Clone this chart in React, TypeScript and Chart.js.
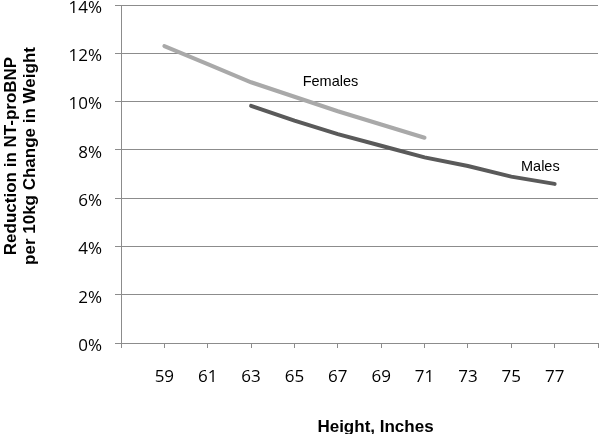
import React, { useEffect, useRef } from "react";
import { Chart, registerables } from "chart.js";

Chart.register(...registerables);

const categories = ["", "59", "61", "63", "65", "67", "69", "71", "73", "75", "77", ""];
const females = [null, 12.3, 11.55, 10.8, 10.2, 9.6, 9.05, 8.5, null, null, null, null];
const males = [null, null, null, 9.82, 9.21, 8.65, 8.17, 7.69, 7.33, 6.89, 6.59, null];
const yTickMin = 0;
const yTickMax = 14;
const yTickStep = 2;
const yTitleLines = ["Reduction in NT-proBNP", "per 10kg Change in Weight"];
const xTitle = "Height, Inches";
const seriesNames = ["Females", "Males"];

const GRID = "#8c8c8c";

const textPlugin = {
  id: "textPlugin",
  afterDraw(chart: any) {
    const ctx = chart.ctx;
    const xs = chart.scales.x;
    const ys = chart.scales.y;
    ctx.save();
    ctx.fillStyle = "#000";
    ctx.font = "bold 17px 'Liberation Sans', Arial, sans-serif";
    ctx.textAlign = "center";
    ctx.textBaseline = "alphabetic";
    const yc = 156;
    const baselines = [16, 35];
    yTitleLines.forEach((t, i) => {
      ctx.save();
      ctx.translate(baselines[i], yc);
      ctx.rotate(-Math.PI / 2);
      ctx.fillText(t, 0, 0);
      ctx.restore();
    });
    ctx.fillText(xTitle, 375.5, 432);
    ctx.font = "14.5px 'Liberation Sans', Arial, sans-serif";
    ctx.fillText(seriesNames[0], xs.getPixelForValue(4.83), ys.getPixelForValue(10.65));
    ctx.fillText(seriesNames[1], xs.getPixelForValue(9.67), ys.getPixelForValue(7.14));
    ctx.restore();
  },
};

export default function App() {
  const ref = useRef<HTMLCanvasElement>(null);
  useEffect(() => {
    document.body.style.margin = "0";
    const chart = new Chart(ref.current!, {
      type: "line",
      data: {
        labels: categories,
        datasets: [
          {
            label: seriesNames[0],
            data: females,
            borderColor: "#a9a9a9",
            borderWidth: 4,
            pointRadius: 0,
            borderCapStyle: "round",
            tension: 0,
            spanGaps: false,
          },
          {
            label: seriesNames[1],
            data: males,
            borderColor: "#5a5a5a",
            borderWidth: 4,
            pointRadius: 0,
            borderCapStyle: "round",
            tension: 0,
            spanGaps: false,
          },
        ],
      },
      options: {
        responsive: false,
        animation: false,
        layout: { padding: { top: 5, right: 2, left: 0, bottom: 0 } },
        plugins: { legend: { display: false }, tooltip: { enabled: false } },
        scales: {
          x: {
            type: "category",
            offset: false,
            grid: { drawOnChartArea: false, drawTicks: true, tickLength: 5, color: GRID },
            border: { display: true, color: GRID },
            ticks: {
              autoSkip: false,
              maxRotation: 0,
              minRotation: 0,
              color: "#000",
              padding: 19,
              font: { family: "'Open Sans', sans-serif", size: 17 },
            },
            afterFit(scale: any) {
              scale.height = 91;
              scale.paddingLeft = 0;
              scale.paddingRight = 0;
            },
          },
          y: {
            min: yTickMin,
            max: yTickMax,
            grid: { color: GRID, tickLength: 6 },
            border: { display: true, color: GRID },
            ticks: {
              stepSize: yTickStep,
              color: "#000",
              padding: 13,
              labelOffset: 3,
              font: { family: "'Open Sans', sans-serif", size: 17 },
              callback: (v: any) => v + "%",
            },
            afterFit(scale: any) {
              scale.width = 121;
              scale.paddingTop = 0;
              scale.paddingBottom = 0;
            },
          },
        },
      },
      plugins: [textPlugin],
    } as any);
    return () => chart.destroy();
  }, []);
  return (
    <div style={{ width: 600, height: 434 }}>
      <canvas ref={ref} width={600} height={434} />
    </div>
  );
}
